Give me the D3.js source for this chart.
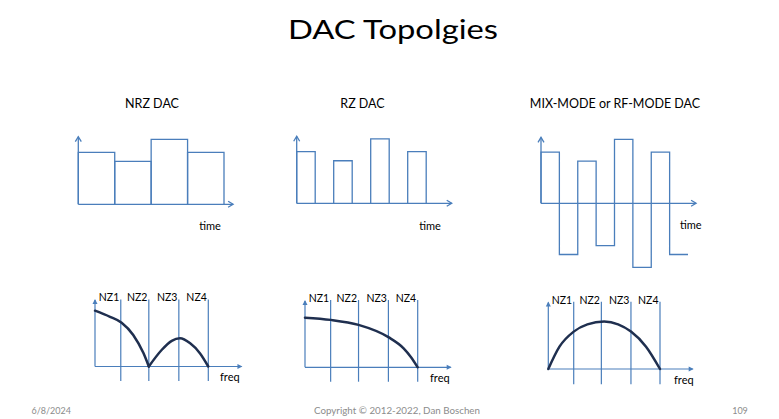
<!DOCTYPE html>
<html>
<head>
<meta charset="utf-8">
<script src="https://cdn.jsdelivr.net/npm/d3@7"></script>
<style>
  html, body { margin: 0; padding: 0; background: #ffffff; }
  svg { display: block; }
  text { font-family: Lato, "Open Sans", sans-serif; }
</style>
</head>
<body>
<svg id="chart" width="779" height="419"></svg>
<script>
// ---------------- DATA ----------------
const chartTitle = "DAC Topolgies";
const panelTitles = ["NRZ DAC", "RZ DAC", "MIX-MODE or RF-MODE DAC"];
const timeLabel = "time";
const freqLabel = "freq";
const sampleValues = [0.8, 0.66, 1.0, 0.8];          // DAC sample amplitudes
const rzDuty = 0.5;                                   // fraction of period held in RZ
const nzLabels = ["NZ1", "NZ2", "NZ3", "NZ4"];
const nzEdges = [0.91, 1.9, 2.96, 4];                 // Nyquist-zone boundaries (freq units)
// frequency responses: [freq, magnitude]
const nrzLobe1 = [[0, 1.0], [0.53, 0.89], [0.94, 0.785], [1.35, 0.565], [1.71, 0.24], [1.9, 0]];
const nrzLobe2 = [[1.9, 0], [2.36, 0.30], [2.71, 0.46], [3.0, 0.505], [3.36, 0.415], [3.71, 0.235], [4.0, 0]];
const rzResponse = [[0, 0.89], [0.91, 0.85], [1.9, 0.76], [2.96, 0.54], [3.5, 0.34], [3.75, 0.19], [4.0, 0]];
const mixResponse = [[0, 0], [0.4, 0.40], [0.91, 0.67], [1.4, 0.80], [2.0, 0.85], [2.5, 0.80], [2.96, 0.67], [3.5, 0.40], [4.0, 0]];
const footerLeft = "6/8/2024";
const footerCenter = "Copyright \u00A9 2012-2022, Dan Boschen";
const footerRight = "109";

// ---------------- STYLE ----------------
const BLUE = "#4a7ebb";
const CURVE = "#1f2f4f";
const svg = d3.select("#chart");

svg.append("text").attr("x", 393).attr("y", 38.5).attr("text-anchor", "middle")
  .attr("font-size", 26.5).attr("textLength", 210).attr("lengthAdjust", "spacingAndGlyphs")
  .attr("fill", "#000").text(chartTitle);

// ---------------- helpers ----------------
function openArrowUp(g, x, y) {
  g.append("path").attr("d", `M${x - 3},${y + 5} L${x},${y} L${x + 3},${y + 5}`)
    .attr("fill", "none").attr("stroke", BLUE).attr("stroke-width", 1.3);
}
function openArrowRight(g, x, y) {
  g.append("path").attr("d", `M${x - 5},${y - 3} L${x},${y} L${x - 5},${y + 3}`)
    .attr("fill", "none").attr("stroke", BLUE).attr("stroke-width", 1.3);
}
function fillArrowUp(g, x, y) {
  g.append("path").attr("d", `M${x - 2.5},${y + 5} L${x},${y} L${x + 2.5},${y + 5} Z`).attr("fill", BLUE);
}
function fillArrowRight(g, x, y) {
  g.append("path").attr("d", `M${x - 5},${y - 2.5} L${x},${y} L${x - 5},${y + 2.5} Z`).attr("fill", BLUE);
}

// ---------------- time-domain panels ----------------
const timePanels = [
  { title: panelTitles[0], cx: 152, x0: 78.3, x4: 224, base: 204.3, top1: 139.3, xEnd: 4.25, yTop: 1.04, kind: "nrz", timeX: 199.3, timeY: 230 },
  { title: panelTitles[1], cx: 362.5, x0: 296.7, x4: 444.7, base: 203.3, top1: 138.8, xEnd: 4.19, yTop: 1.04, kind: "rz", timeX: 419.3, timeY: 229.5 },
  { title: panelTitles[2], cx: 615, x0: 541, x4: 688, base: 203.3, top1: 139.3, xEnd: 4.22, yTop: 1.03, kind: "mix", timeX: 680, timeY: 229 }
];

timePanels.forEach(p => {
  const g = svg.append("g");
  const x = d3.scaleLinear().domain([0, 4]).range([p.x0, p.x4]);
  const y = d3.scaleLinear().domain([0, 1]).range([p.base, p.top1]);

  g.append("text").attr("x", p.cx).attr("y", 107.5).attr("text-anchor", "middle")
    .attr("font-size", 12.5).attr("fill", "#000").text(p.title);

  const line = d3.line().x(d => x(d[0])).y(d => y(d[1]));

  if (p.kind === "nrz") {
    sampleValues.forEach((v, i) => {
      g.append("path").attr("d", line([[i, 0], [i, v], [i + 1, v], [i + 1, 0]]))
        .attr("fill", "none").attr("stroke", BLUE).attr("stroke-width", 1.3);
    });
  } else if (p.kind === "rz") {
    sampleValues.forEach((v, i) => {
      g.append("path").attr("d", line([[i, 0], [i, v], [i + rzDuty, v], [i + rzDuty, 0]]))
        .attr("fill", "none").attr("stroke", BLUE).attr("stroke-width", 1.3);
    });
  } else {
    const pts = [[0, 0]];
    sampleValues.forEach((v, i) => {
      pts.push([i, v], [i + 0.5, v], [i + 0.5, -v], [i + 1, -v]);
    });
    g.append("path").attr("d", line(pts))
      .attr("fill", "none").attr("stroke", BLUE).attr("stroke-width", 1.3);
  }

  // axes
  g.append("line").attr("x1", x(0)).attr("x2", x(p.xEnd)).attr("y1", y(0)).attr("y2", y(0))
    .attr("stroke", BLUE).attr("stroke-width", 1.3);
  g.append("line").attr("x1", x(0)).attr("x2", x(0)).attr("y1", y(0)).attr("y2", y(p.yTop))
    .attr("stroke", BLUE).attr("stroke-width", 1.3);
  openArrowUp(g, x(0), y(p.yTop));
  openArrowRight(g, x(p.xEnd), y(0));

  g.append("text").attr("x", p.timeX).attr("y", p.timeY).attr("font-size", 11)
    .attr("fill", "#000").text(timeLabel);
});

// ---------------- frequency-domain panels ----------------
const freqPanels = [
  { x0: 95, x4: 208.3, base: 366.5, lineTop: 299.5, lineBot: 381, labelY: 301, freqX: 220, freqY: 381, curves: [nrzLobe1, nrzLobe2] },
  { x0: 305, x4: 417.7, base: 367.3, lineTop: 300, lineBot: 381.7, labelY: 302, freqX: 430, freqY: 381.5, curves: [rzResponse] },
  { x0: 548.3, x4: 660, base: 369, lineTop: 301.7, lineBot: 384.3, labelY: 304, freqX: 674, freqY: 383.5, curves: [mixResponse] }
];

freqPanels.forEach(p => {
  const g = svg.append("g");
  const x = d3.scaleLinear().domain([0, 4]).range([p.x0, p.x4]);
  const y = d3.scaleLinear().domain([0, 1]).range([p.base, p.base - 55.8]);

  // Nyquist-zone dividers
  g.selectAll("line.nz").data(nzEdges).enter().append("line")
    .attr("x1", d => x(d)).attr("x2", d => x(d)).attr("y1", p.lineTop).attr("y2", p.lineBot)
    .attr("stroke", BLUE).attr("stroke-width", 1.2);

  g.selectAll("text.nz").data(nzLabels).enter().append("text")
    .attr("x", (d, i) => x(nzEdges[i]) - 1.5).attr("y", p.labelY)
    .attr("text-anchor", "end").attr("font-size", 10.5).attr("fill", "#000").text(d => d);

  // axes
  const xEnd = 5.17, yTop = 1.19;
  g.append("line").attr("x1", x(0)).attr("x2", x(xEnd)).attr("y1", y(0)).attr("y2", y(0))
    .attr("stroke", BLUE).attr("stroke-width", 1.2);
  g.append("line").attr("x1", x(0)).attr("x2", x(0)).attr("y1", y(0)).attr("y2", y(yTop))
    .attr("stroke", BLUE).attr("stroke-width", 1.2);
  fillArrowUp(g, x(0), y(yTop) - 1);
  fillArrowRight(g, x(xEnd) + 1, y(0));

  const curve = d3.line().x(d => x(d[0])).y(d => y(d[1])).curve(d3.curveMonotoneX);
  p.curves.forEach(c => {
    g.append("path").attr("d", curve(c)).attr("fill", "none")
      .attr("stroke", CURVE).attr("stroke-width", 2.5).attr("stroke-linecap", "round");
  });

  g.append("text").attr("x", p.freqX).attr("y", p.freqY).attr("font-size", 11)
    .attr("fill", "#000").text(freqLabel);
});

// ---------------- footer ----------------
svg.append("text").attr("x", 31.5).attr("y", 414).attr("font-size", 9).attr("fill", "#8c8c8c").text(footerLeft);
svg.append("text").attr("x", 397).attr("y", 414).attr("text-anchor", "middle").attr("font-size", 9.3)
  .attr("textLength", 166).attr("lengthAdjust", "spacingAndGlyphs").attr("fill", "#8c8c8c").text(footerCenter);
svg.append("text").attr("x", 740).attr("y", 414).attr("text-anchor", "middle").attr("font-size", 9).attr("fill", "#8c8c8c").text(footerRight);
</script>
</body>
</html>
